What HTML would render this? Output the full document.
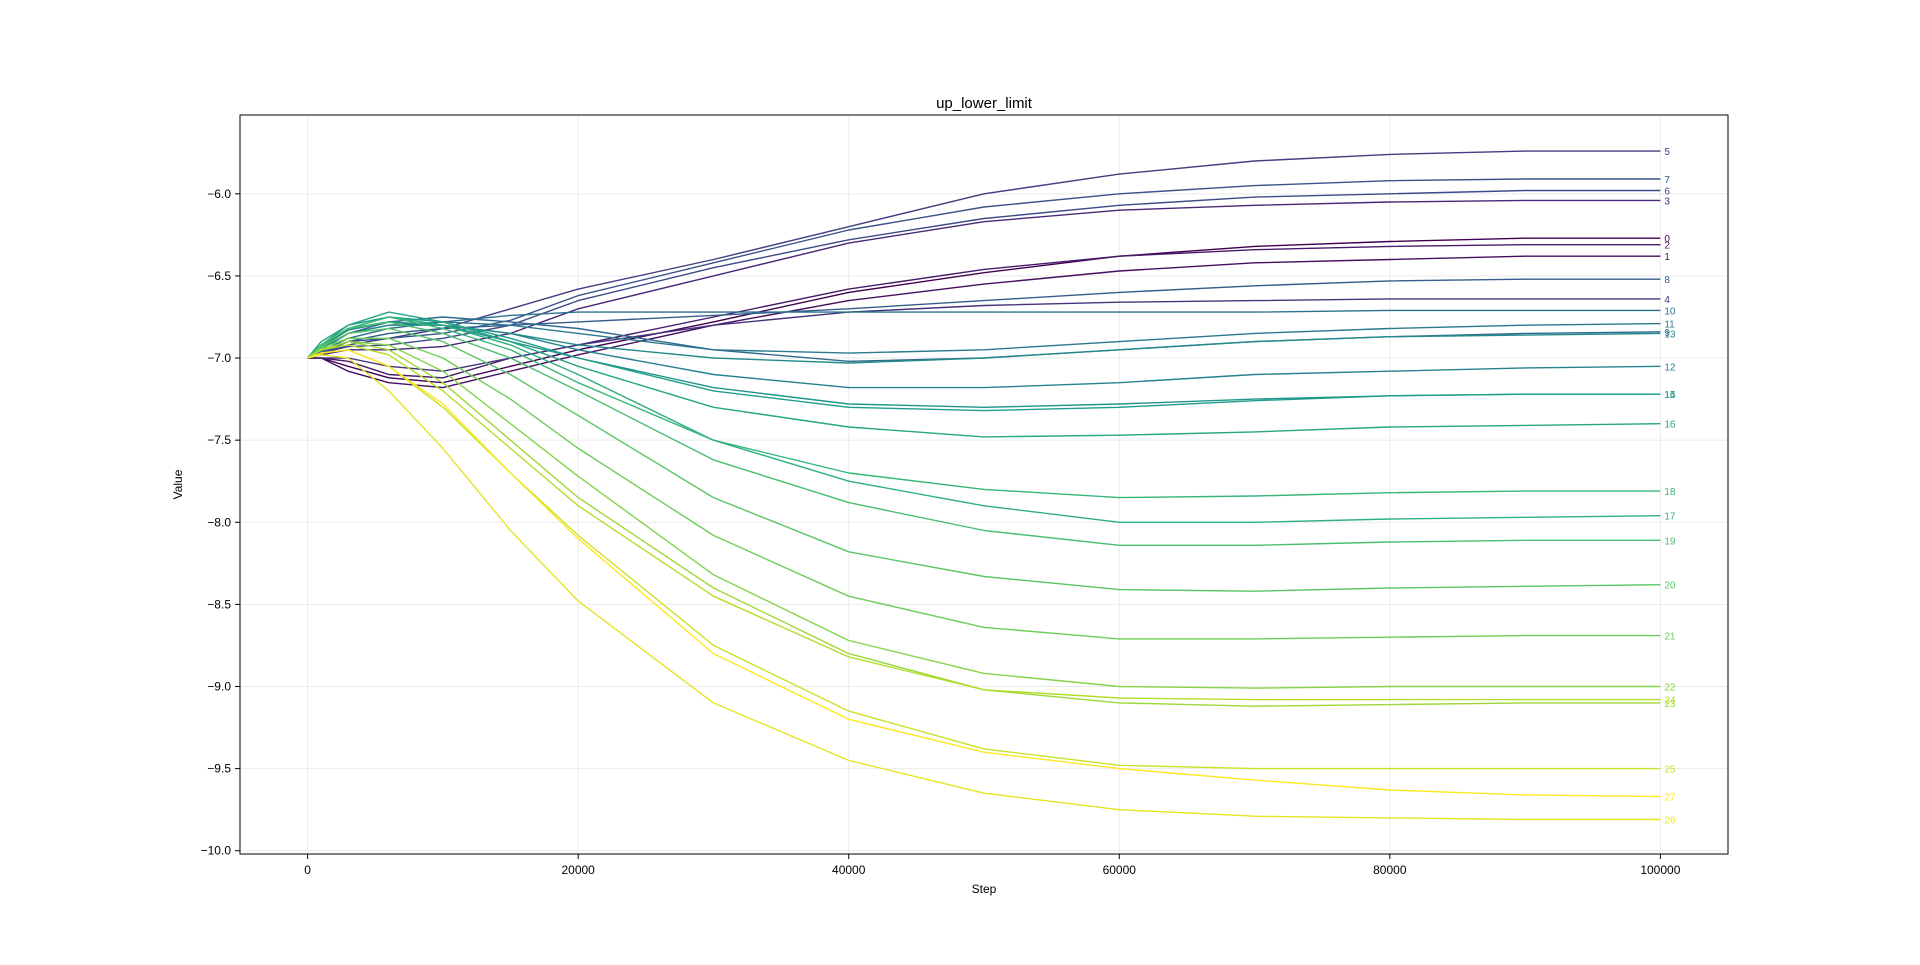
<!DOCTYPE html>
<html><head><meta charset="utf-8"><style>
body{margin:0;background:#fff;}
svg text{font-family:"Liberation Sans","DejaVu Sans",sans-serif;}
</style></head><body>
<svg id="chart" width="1920" height="960" xmlns="http://www.w3.org/2000/svg"></svg>
<script>
const steps=[0,1000,3000,6000,10000,15000,20000,30000,40000,50000,60000,70000,80000,90000,100000];
const s0=[-7,-7,-7.05,-7.12,-7.15,-7.05,-6.95,-6.78,-6.6,-6.48,-6.38,-6.32,-6.29,-6.27,-6.27];
const s1=[-7,-7,-7.08,-7.15,-7.18,-7.08,-6.98,-6.8,-6.65,-6.55,-6.47,-6.42,-6.4,-6.38,-6.38];
const s2=[-7,-7,-7.02,-7.1,-7.12,-7.0,-6.92,-6.75,-6.58,-6.46,-6.38,-6.34,-6.32,-6.31,-6.31];
const s3=[-7,-6.98,-6.95,-6.95,-6.93,-6.85,-6.7,-6.5,-6.3,-6.17,-6.1,-6.07,-6.05,-6.04,-6.04];
const s4=[-7,-7,-7.0,-7.05,-7.08,-7.0,-6.92,-6.8,-6.72,-6.68,-6.66,-6.65,-6.64,-6.64,-6.64];
const s5=[-7,-6.97,-6.92,-6.88,-6.82,-6.7,-6.58,-6.4,-6.2,-6.0,-5.88,-5.8,-5.76,-5.74,-5.74];
const s6=[-7,-6.97,-6.93,-6.92,-6.88,-6.8,-6.65,-6.45,-6.28,-6.15,-6.07,-6.02,-6.0,-5.98,-5.98];
const s7=[-7,-6.96,-6.9,-6.88,-6.85,-6.77,-6.62,-6.42,-6.22,-6.08,-6.0,-5.95,-5.92,-5.91,-5.91];
const s8=[-7,-6.97,-6.9,-6.85,-6.82,-6.8,-6.78,-6.74,-6.7,-6.65,-6.6,-6.56,-6.53,-6.52,-6.52];
const s9=[-7,-6.95,-6.85,-6.78,-6.75,-6.78,-6.82,-6.95,-7.02,-7.0,-6.95,-6.9,-6.87,-6.85,-6.84];
const s10=[-7,-6.96,-6.88,-6.82,-6.78,-6.74,-6.72,-6.72,-6.72,-6.72,-6.72,-6.72,-6.71,-6.71,-6.71];
const s11=[-7,-6.95,-6.85,-6.8,-6.78,-6.8,-6.85,-6.95,-6.97,-6.95,-6.9,-6.85,-6.82,-6.8,-6.79];
const s12=[-7,-6.93,-6.83,-6.78,-6.8,-6.85,-6.95,-7.1,-7.18,-7.18,-7.15,-7.1,-7.08,-7.06,-7.05];
const s13=[-7,-6.94,-6.85,-6.8,-6.8,-6.85,-6.92,-7.0,-7.03,-7.0,-6.95,-6.9,-6.87,-6.86,-6.85];
const s14=[-7,-6.92,-6.82,-6.78,-6.8,-6.9,-7.0,-7.18,-7.28,-7.3,-7.28,-7.25,-7.23,-7.22,-7.22];
const s15=[-7,-6.92,-6.8,-6.75,-6.78,-6.88,-7.0,-7.2,-7.3,-7.32,-7.3,-7.26,-7.23,-7.22,-7.22];
const s16=[-7,-6.9,-6.8,-6.72,-6.78,-6.9,-7.05,-7.3,-7.42,-7.48,-7.47,-7.45,-7.42,-7.41,-7.40];
const s17=[-7,-6.92,-6.82,-6.75,-6.8,-6.92,-7.1,-7.5,-7.75,-7.9,-8.0,-8.0,-7.98,-7.97,-7.96];
const s18=[-7,-6.92,-6.82,-6.75,-6.82,-6.95,-7.15,-7.5,-7.7,-7.8,-7.85,-7.84,-7.82,-7.81,-7.81];
const s19=[-7,-6.92,-6.82,-6.78,-6.85,-7.0,-7.2,-7.62,-7.88,-8.05,-8.14,-8.14,-8.12,-8.11,-8.11];
const s20=[-7,-6.93,-6.85,-6.82,-6.9,-7.1,-7.35,-7.85,-8.18,-8.33,-8.41,-8.42,-8.4,-8.39,-8.38];
const s21=[-7,-6.94,-6.88,-6.88,-7.0,-7.25,-7.55,-8.08,-8.45,-8.64,-8.71,-8.71,-8.7,-8.69,-8.69];
const s22=[-7,-6.95,-6.9,-6.92,-7.08,-7.4,-7.72,-8.32,-8.72,-8.92,-9.0,-9.01,-9.0,-9.0,-9.0];
const s23=[-7,-6.95,-6.9,-6.95,-7.15,-7.5,-7.85,-8.4,-8.8,-9.02,-9.1,-9.12,-9.11,-9.1,-9.1];
const s24=[-7,-6.95,-6.92,-6.98,-7.2,-7.55,-7.9,-8.45,-8.82,-9.02,-9.07,-9.08,-9.08,-9.08,-9.08];
const s25=[-7,-6.97,-6.95,-7.05,-7.3,-7.7,-8.08,-8.75,-9.15,-9.38,-9.48,-9.5,-9.5,-9.5,-9.5];
const s26=[-7,-6.98,-7.0,-7.2,-7.55,-8.05,-8.48,-9.1,-9.45,-9.65,-9.75,-9.79,-9.8,-9.81,-9.81];
const s27=[-7,-6.97,-6.95,-7.05,-7.28,-7.7,-8.1,-8.8,-9.2,-9.4,-9.5,-9.57,-9.63,-9.66,-9.67];
const series=[s0,s1,s2,s3,s4,s5,s6,s7,s8,s9,s10,s11,s12,s13,s14,s15,s16,s17,s18,s19,s20,s21,s22,s23,s24,s25,s26,s27];
const xTicks=[0,20000,40000,60000,80000,100000];
const yTicks=[-10.0,-9.5,-9.0,-8.5,-8.0,-7.5,-7.0,-6.5,-6.0];

const L=240,R=1728,T=115,B=854;
const xMin=-5000,xMax=105000,yMin=-10.02,yMax=-5.52;
const X=v=>L+(v-xMin)/(xMax-xMin)*(R-L);
const Y=v=>B-(v-yMin)/(yMax-yMin)*(B-T);
const vir=[[68,1,84],[72,40,120],[62,74,137],[49,104,142],[38,130,142],[31,158,137],[53,183,121],[109,205,89],[180,222,44],[253,231,37]];
function col(t){const p=t*9,i=Math.min(8,Math.floor(p)),f=p-i;const a=vir[i],b=vir[i+1];return 'rgb('+a.map((c,k)=>Math.round(c+(b[k]-c)*f)).join(',')+')';}
const svg=document.getElementById('chart');
const NS='http://www.w3.org/2000/svg';
function mk(tag,attrs,parent){const e=document.createElementNS(NS,tag);for(const k in attrs)e.setAttribute(k,attrs[k]);(parent||svg).appendChild(e);return e;}

xTicks.forEach(v=>{
  const g=mk('line',{x1:X(v),x2:X(v),y1:T,y2:B,stroke:'#ebebeb','stroke-width':1});
  
  
  const tk=mk('line',{x1:X(v),x2:X(v),y1:B,y2:B+5,stroke:'#000'});
  
  
  const t=mk('text',{x:X(v),y:B+20,'text-anchor':'middle','font-size':12});
  t.textContent=v;
  
  
});
yTicks.forEach(v=>{
  const g=mk('line',{x1:L,x2:R,y1:Y(v),y2:Y(v),stroke:'#ebebeb','stroke-width':1});
  
  
  const tk=mk('line',{x1:L-5,x2:L,y1:Y(v),y2:Y(v),stroke:'#000'});
  
  
  const t=mk('text',{x:L-9,y:Y(v)+4,'text-anchor':'end','font-size':12});
  t.textContent='\u2212'+Math.abs(v).toFixed(1);
  
  
});
series.forEach((s,i)=>{
  const c=col(i/(series.length-1));
  const d=s.map((v,j)=>(j?'L':'M')+X(steps[j]).toFixed(1)+','+Y(v).toFixed(1)).join('');
  const p=mk('path',{d:d,fill:'none',stroke:c,'stroke-width':1.4,'stroke-linejoin':'round'});
  
  
  const t=mk('text',{x:X(steps[steps.length-1])+4,y:Y(s[s.length-1])+4,'font-size':10,fill:c});
  t.textContent=i;
  
  
});
const fr=mk('rect',{x:L,y:T,width:R-L,height:B-T,fill:'none',stroke:'#000','stroke-width':1});


const ti=mk('text',{x:(L+R)/2,y:T-7,'text-anchor':'middle','font-size':15});
ti.textContent='up_lower_limit';


const xl=mk('text',{x:(L+R)/2,y:B+39,'text-anchor':'middle','font-size':12});
xl.textContent='Step';


const yl=mk('text',{x:0,y:0,'text-anchor':'middle','font-size':12,transform:'translate(182,'+((T+B)/2)+') rotate(-90)'});
yl.textContent='Value';


</script>
</body></html>
